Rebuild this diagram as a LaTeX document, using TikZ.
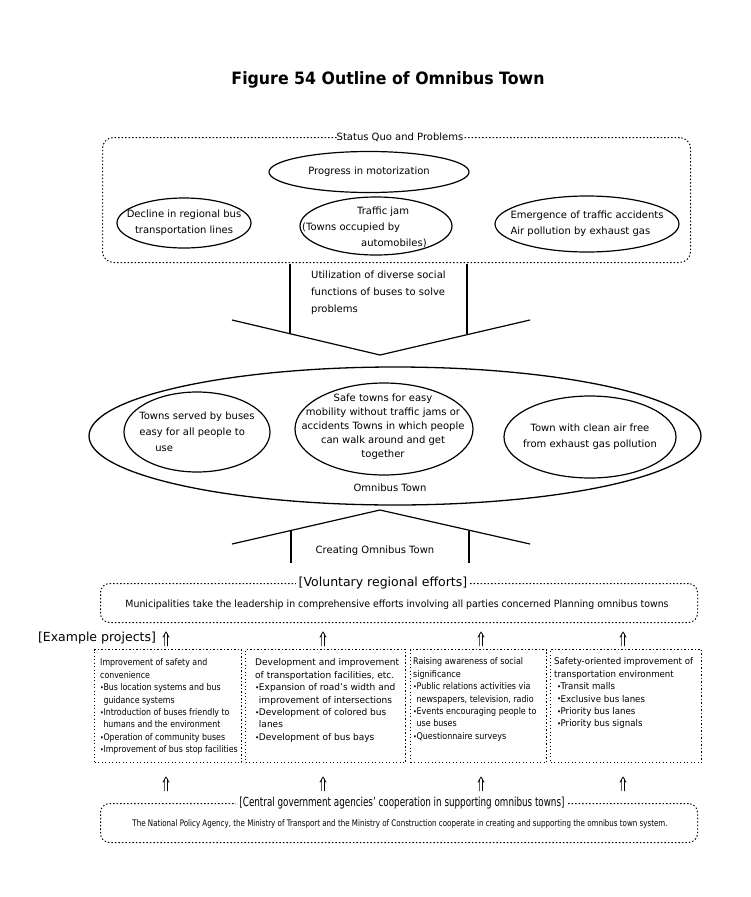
\documentclass[tikz,border=0pt]{standalone}
\usepackage{fontspec}
\usepackage{graphicx}
\setmainfont{DejaVu Sans}
\usetikzlibrary{shapes.geometric}
\newcommand{\lns}[2]{\scalebox{#1}[1]{\begin{tabular}{@{}l@{}}#2\end{tabular}}}
\newcommand{\bu}{\makebox[0.42em][l]{\raisebox{0.02em}{\scalebox{0.8}{•}}}}
\newcommand{\ind}{\hspace*{0.42em}}
\begin{document}
\begin{tikzpicture}[x=1pt,y=-1pt,
  dotbox/.style={draw, line width=1pt, dash pattern=on 1.4pt off 2.1pt, rounded corners=11pt, anchor=north west, inner sep=0pt},
  projbox/.style={draw, line width=1pt, dash pattern=on 1.4pt off 2.1pt, anchor=north west, inner sep=0pt},
  ell/.style={draw, ellipse, line width=1.2pt, inner sep=0pt},
  txt/.style={font=\fontsize{10}{16}\selectfont, inner sep=0pt},
  lab/.style={fill=white, inner xsep=3pt, inner ysep=1pt},
  chev/.style={line width=1.2pt},
  upar/.style={line width=0.7pt},
  ptxt/.style={anchor=north west, inner sep=0pt, font=\fontsize{9.2}{12.4}\selectfont}
]
\useasboundingbox (0,0) rectangle (750,897);

% title
\node[inner sep=0pt] (title) at (388,80) {\resizebox{313pt}{\height}{\fontsize{17}{20}\selectfont\bfseries Figure 54 Outline of Omnibus Town}};

% status quo box
\node[dotbox, minimum width=588pt, minimum height=125pt] (sq) at (102,137) {};
\node[lab, txt] (sqlab) at (400,137) {Status Quo and Problems};
\node[ell, minimum width=200pt, minimum height=41pt] (motor) at (369,172) {};
\node[txt] (motort) at (motor) {Progress in motorization};
\node[ell, minimum width=134pt, minimum height=50pt] (decl) at (184,223) {};
\node[txt, align=center] (declt) at (decl) {Decline in regional bus\\transportation lines};
\node[ell, minimum width=152pt, minimum height=58pt] (jam) at (376,226) {};
\node[txt, align=left, anchor=west] (jamt) at (302,227) {\hspace*{55pt}Traffic jam\\(Towns occupied by\\\hspace*{59pt}automobiles)};
\node[ell, minimum width=184pt, minimum height=56pt] (acc) at (587,224) {};
\node[txt, align=left] (acct) at (acc) {Emergence of traffic accidents\\Air pollution by exhaust gas};

% down chevron
\coordinate (c1L) at (232,320);
\coordinate (c1A) at (380,355);
\coordinate (c1R) at (530,320);
\coordinate (c1l) at (290,264);
\coordinate (c1lb) at (290,333.7);
\coordinate (c1r) at (467,264);
\coordinate (c1rb) at (467,333.5);
\draw[chev] (c1L) -- (c1A) -- (c1R);
\draw[chev] (c1l) -- (c1lb);
\draw[chev] (c1r) -- (c1rb);
\node[txt, align=left, anchor=north west, font=\fontsize{10}{17}\selectfont] (util) at (311,271) {Utilization of diverse social\\functions of buses to solve\\problems};

% omnibus town
\node[ell, line width=1.3pt, minimum width=612pt, minimum height=138pt] (omni) at (395,436) {};
\node[txt] (omnit) at (390,488) {Omnibus Town};
\node[ell, minimum width=146pt, minimum height=80pt] (ot1) at (197,432) {};
\node[txt, align=left] (ot1t) at (ot1) {Towns served by buses\\easy for all people to\\\hspace*{16pt}use};
\node[ell, minimum width=178pt, minimum height=92pt] (ot2) at (384,429) {};
\node[txt, align=center, font=\fontsize{10}{14}\selectfont] (ot2t) at (383,427) {Safe towns for easy\\mobility without traffic jams or\\accidents Towns in which people\\can walk around and get\\together};
\node[ell, minimum width=172pt, minimum height=82pt] (ot3) at (590,437) {};
\node[txt, align=center] (ot3t) at (ot3) {Town with clean air free\\from exhaust gas pollution};

% up chevron (roof)
\coordinate (c2L) at (232,544);
\coordinate (c2A) at (380,510);
\coordinate (c2R) at (530,544);
\coordinate (c2l) at (291,530.4);
\coordinate (c2lb) at (291,563);
\coordinate (c2r) at (469,530.8);
\coordinate (c2rb) at (469,563);
\draw[chev] (c2L) -- (c2A) -- (c2R);
\draw[chev] (c2l) -- (c2lb);
\draw[chev] (c2r) -- (c2rb);
\node[txt] (creat) at (375,551) {Creating Omnibus Town};

% voluntary
\node[dotbox, minimum width=597pt, minimum height=39pt, rounded corners=9pt] (vol) at (100,583) {};
\node[lab, font=\fontsize{12.5}{15}\selectfont] (vollab) at (383,583) {[Voluntary regional efforts]};
\node[inner sep=0pt] (volt) at (397,605) {\resizebox{543pt}{\height}{\fontsize{10}{12}\selectfont Municipalities take the leadership in comprehensive efforts involving all parties concerned Planning omnibus towns}};

\node[inner sep=0pt, font=\fontsize{12.5}{15}\selectfont] (expl) at (97,638) {[Example projects]};

% arrows
\foreach \i/\xx in {1/166,2/323,3/481,4/623}{
  \coordinate (ua\i) at (\xx,646);
  \coordinate (ub\i) at (\xx,632);
  \draw[upar] (ua\i) ++(-1.4,0) -- ++(0,-12.5) (ua\i) ++(1.4,0) -- ++(0,-12.5)
     (ub\i) ++(-3.2,5.5) -- (ub\i) -- ++(3.2,5.5);
  \coordinate (da\i) at (\xx,791);
  \coordinate (db\i) at (\xx,777);
  \draw[upar] (da\i) ++(-1.4,0) -- ++(0,-12.5) (da\i) ++(1.4,0) -- ++(0,-12.5)
     (db\i) ++(-3.2,5.5) -- (db\i) -- ++(3.2,5.5);
}

% project boxes
\node[projbox, minimum width=147pt, minimum height=113pt] (p1) at (94,649) {};
\node[projbox, minimum width=160pt, minimum height=113pt] (p2) at (245,649) {};
\node[projbox, minimum width=136pt, minimum height=113pt] (p3) at (410,649) {};
\node[projbox, minimum width=151pt, minimum height=113pt] (p4) at (550,649) {};

\node[ptxt] (p1t) at (100,657) {\lns{0.855}{Improvement of safety and\\convenience\\\bu Bus location systems and bus\\\ind guidance systems\\\bu Introduction of buses friendly to\\\ind humans and the environment\\\bu Operation of community buses\\\bu Improvement of bus stop facilities}};
\node[ptxt] (p2t) at (255,657) {\lns{0.98}{Development and improvement\\of transportation facilities, etc.\\\bu Expansion of road's width and\\\ind improvement of intersections\\\bu Development of colored bus\\\ind lanes\\\bu Development of bus bays}};
\node[ptxt] (p3t) at (413,656) {\lns{0.87}{Raising awareness of social\\significance\\\bu Public relations activities via\\\ind newspapers, television, radio\\\bu Events encouraging people to\\\ind use buses\\\bu Questionnaire surveys}};
\node[ptxt] (p4t) at (554,656) {\lns{0.94}{Safety-oriented improvement of\\transportation environment\\\hspace*{3pt}\bu Transit malls\\\hspace*{3pt}\bu Exclusive bus lanes\\\hspace*{3pt}\bu Priority bus lanes\\\hspace*{3pt}\bu Priority bus signals}};

% central government
\node[dotbox, minimum width=597pt, minimum height=39pt, rounded corners=9pt] (cen) at (100,803) {};
\node[lab, inner xsep=3pt] (cenlab) at (402,803) {\resizebox{325pt}{\height}{\fontsize{12.5}{15}\selectfont[Central government agencies' cooperation in supporting omnibus towns]}};
\node[inner sep=0pt] (cent) at (400,824) {\resizebox{535pt}{\height}{\fontsize{9}{11}\selectfont The National Policy Agency, the Ministry of Transport and the Ministry of Construction cooperate in creating and supporting the omnibus town system.}};
\end{tikzpicture}
\end{document}
